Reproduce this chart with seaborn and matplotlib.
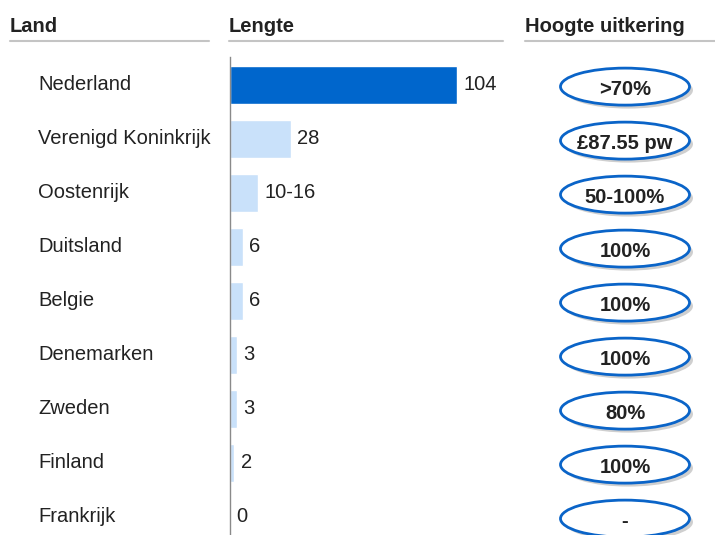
import matplotlib
matplotlib.use("Agg")
import matplotlib.pyplot as plt
import matplotlib.transforms as mtransforms
import matplotlib.patheffects as pe
from matplotlib.patches import Ellipse
from matplotlib.lines import Line2D
import seaborn as sns

# data
landen = ["Nederland", "Verenigd Koninkrijk", "Oostenrijk", "Duitsland", "Belgie",
          "Denemarken", "Zweden", "Finland", "Frankrijk"]
lengte = [104, 28, 13, 6, 6, 3, 3, 2, 0]
lengte_labels = ["104", "28", "10-16", "6", "6", "3", "3", "2", "0"]
uitkering = [">70%", "£87.55 pw", "50-100%", "100%", "100%", "100%", "80%", "100%", "-"]
headers = ["Land", "Lengte", "Hoogte uitkering"]

sns.set_style("white")
plt.rcParams["font.family"] = ["Liberation Sans", "DejaVu Sans"]

W, H = 715, 535
fig = plt.figure(figsize=(W / 100, H / 100), dpi=100)

def fx(px):
    return px / W

def fy(py):
    return 1 - py / H

# row geometry: row i centred at 85 + 54*i px, axes from y=57 to 535
ylim = ((535 - 85) / 54, (57 - 85) / 54)

# -------------------------
# bar column
# -------------------------
ax = fig.add_axes([fx(230), 0, fx(503) - fx(230), fy(57)])
kleuren = ["#0066cc"] + ["#c9e1fa"] * (len(landen) - 1)
sns.barplot(x=lengte, y=landen, hue=landen, palette=kleuren, orient="h",
            width=0.7, legend=False, ax=ax, saturation=1)
ax.set_xlim(0, 273 / (227 / 104))
ax.set_ylim(*ylim)
ax.set_xticks([])
ax.set_yticks([])
ax.set_xlabel("")
ax.set_ylabel("")
for s in ["top", "right", "bottom"]:
    ax.spines[s].set_visible(False)
ax.spines["left"].set_color("#8a8a8a")
ax.spines["left"].set_linewidth(1)

for i, (v, lab) in enumerate(zip(lengte, lengte_labels)):
    ax.annotate(lab, (v, i), xytext=(4.5, 0), textcoords="offset points",
                va="center", ha="left", fontsize=14.5, color="#222222")

# country labels
trans = mtransforms.blended_transform_factory(fig.transFigure, ax.transData)
for i, land in enumerate(landen):
    ax.text(fx(38), i, land, transform=trans, va="center", ha="left",
            fontsize=14.5, color="#222222", clip_on=False)

# -------------------------
# ellipse column
# -------------------------
ax2 = fig.add_axes([fx(525), 0, fx(715) - fx(525), fy(57)])
ax2.set_xlim(525, 715)
ax2.set_ylim(*ylim)
ax2.axis("off")
for i, txt in enumerate(uitkering):
    ell = Ellipse((625, i + 0.03), 129, 37 / 54, facecolor="white",
                  edgecolor="#0a64c8", linewidth=2, clip_on=False)
    ell.set_path_effects([pe.SimplePatchShadow(offset=(2.5, -2.5), shadow_rgbFace="#a8a8a8",
                                               alpha=0.55), pe.Normal()])
    ax2.add_patch(ell)
    ax2.text(625, i + 0.08, txt, ha="center", va="center", fontsize=14.5,
             fontweight="bold", color="#222222")

# -------------------------
# headers with underline
# -------------------------
header_x = [(10, 209), (229, 503), (525, 715)]
for h, (x0, x1) in zip(headers, header_x):
    fig.text(fx(x0), fy(27), h, ha="left", va="center", fontsize=14.5,
             fontweight="bold", color="#222222")
    fig.add_artist(Line2D([fx(x0), fx(x1)], [fy(40.5), fy(40.5)],
                          transform=fig.transFigure, color="#c4c4c4", linewidth=1.5))

fig.savefig("out.png", dpi=100)
